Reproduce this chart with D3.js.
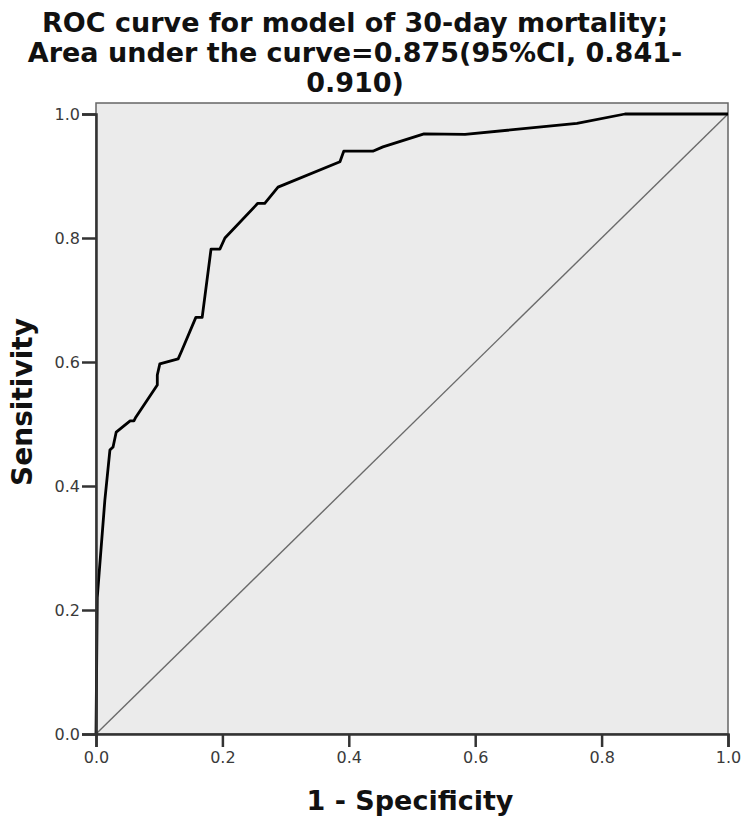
<!DOCTYPE html>
<html>
<head>
<meta charset="utf-8">
<script src="https://cdn.jsdelivr.net/npm/d3@7"></script>
<style>
  body { margin: 0; background: #fff; }
  svg { display: block; }
</style>
</head>
<body>
<div id="chart"></div>
<script>
const w = 744;
const h = 816;

// ROC curve: 1 - specificity vs sensitivity
const fpr = [0, 0.002, 0.005, 0.014, 0.022, 0.027, 0.032, 0.054, 0.06, 0.063, 0.097, 0.097, 0.101, 0.13, 0.136, 0.158, 0.168, 0.182, 0.196, 0.204, 0.256, 0.267, 0.288, 0.386, 0.392, 0.438, 0.454, 0.519, 0.584, 0.761, 0.837, 1.0];
const tpr = [0, 0.22, 0.26, 0.377, 0.458, 0.463, 0.487, 0.505, 0.505, 0.511, 0.563, 0.579, 0.597, 0.605, 0.619, 0.672, 0.672, 0.782, 0.782, 0.8, 0.856, 0.856, 0.882, 0.923, 0.94, 0.94, 0.947, 0.968, 0.967, 0.985, 1.0, 1.0];
const refLine = [0, 1];
const ticks = [0, 0.2, 0.4, 0.6, 0.8, 1.0];
const titleLines = [
  'ROC curve for model of 30-day mortality;',
  'Area under the curve=0.875(95%CI, 0.841-',
  '0.910)'
];

const mLeft = 96, mRight = 728, mTop = 114, mBottom = 734;

const svg = d3.select('#chart')
  .append('svg')
  .attr('width', w)
  .attr('height', h);

const x = d3.scaleLinear().domain([0, 1]).range([mLeft, mRight]);
const y = d3.scaleLinear().domain([0, 1]).range([mBottom, mTop]);

// plot background / frame
svg.append('rect')
  .attr('x', mLeft)
  .attr('y', mTop - 11)
  .attr('width', mRight - mLeft)
  .attr('height', mBottom - mTop + 11)
  .attr('fill', '#ebebeb')
  .attr('stroke', '#666')
  .attr('stroke-width', 1.5);

// reference diagonal
svg.append('line')
  .attr('x1', x(refLine[0]))
  .attr('y1', y(refLine[0]))
  .attr('x2', x(refLine[1]))
  .attr('y2', y(refLine[1]))
  .attr('stroke', '#6a6a6a')
  .attr('stroke-width', 1.4);

const pts = fpr.map((d, i) => [d, tpr[i]]);

svg.append('path')
  .datum(pts)
  .attr('fill', 'none')
  .attr('stroke', '#000')
  .attr('stroke-width', 2.8)
  .attr('stroke-linejoin', 'round')
  .attr('d', d3.line().x(d => x(d[0])).y(d => y(d[1])));

const fmt = d3.format('.1f');

const xAxis = svg.append('g')
  .attr('transform', `translate(0, ${mBottom})`)
  .call(d3.axisBottom(x).tickValues(ticks).tickFormat(fmt).tickSize(13).tickPadding(5));

const yAxis = svg.append('g')
  .attr('transform', `translate(${mLeft}, 0)`)
  .call(d3.axisLeft(y).tickValues(ticks).tickFormat(fmt).tickSize(14).tickPadding(2));

[xAxis, yAxis].forEach(g => {
  g.select('.domain').attr('stroke', '#333').attr('stroke-width', 2.5);
  g.selectAll('.tick line').attr('stroke', '#333').attr('stroke-width', 2.5);
  g.selectAll('.tick text')
    .attr('fill', '#3a3a3a')
    .style('font-family', 'DejaVu Sans')
    .style('font-size', '16px');
});
yAxis.selectAll('.tick text').attr('dy', '0.36em');

// titles
svg.append('g')
  .selectAll('text')
  .data(titleLines)
  .enter()
  .append('text')
  .attr('x', 355)
  .attr('y', (d, i) => 32 + i * 30)
  .style('text-anchor', 'middle')
  .style('font-family', 'DejaVu Sans')
  .style('font-weight', 'bold')
  .style('font-size', '27px')
  .attr('fill', '#111')
  .text(d => d);

svg.append('text')
  .attr('x', 410)
  .attr('y', 810)
  .style('text-anchor', 'middle')
  .style('font-family', 'DejaVu Sans')
  .style('font-weight', 'bold')
  .style('font-size', '27px')
  .attr('fill', '#111')
  .text('1 - Specificity');

svg.append('text')
  .attr('transform', `translate(32, 402) rotate(-90)`)
  .style('text-anchor', 'middle')
  .style('font-family', 'DejaVu Sans')
  .style('font-weight', 'bold')
  .style('font-size', '28px')
  .attr('fill', '#111')
  .text('Sensitivity');
</script>
</body>
</html>
